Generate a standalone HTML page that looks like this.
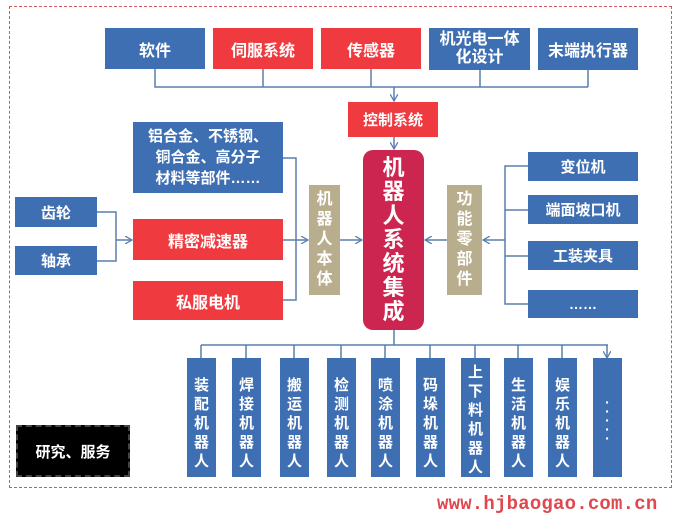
<!DOCTYPE html>
<html><head><meta charset="utf-8"><style>
body{margin:0;width:686px;height:530px;background:#fff;position:relative;overflow:hidden;font-family:"Liberation Sans","Noto Sans CJK SC",sans-serif;}
.b{position:absolute;display:flex;align-items:center;justify-content:center;color:#fff;font-weight:bold;text-align:center;box-sizing:border-box;}
.bl{background:#3f6fb3;}
.rd{background:#ef3b3f;}
.tn{background:#b8ad8c;}
</style></head><body>
<div style="position:absolute;left:9px;top:6px;width:663px;height:482px;border:1.5px dashed #d05a5a;box-sizing:border-box"></div>
<svg width="686" height="530" style="position:absolute;left:0;top:0">
<defs><marker id="a" markerWidth="8" markerHeight="8" refX="7" refY="4" orient="auto" markerUnits="userSpaceOnUse"><path d="M0,0 L7,4 L0,8" fill="none" stroke="#5b7fae" stroke-width="1.3"/></marker></defs>
<g stroke="#5b7fae" stroke-width="1.5" fill="none">
<path d="M155,69V87H588M263,69V87M371,69V87M480,69V87M588,69V87"/>
<path d="M394,87V101" marker-end="url(#a)"/>
<path d="M394,137V149" marker-end="url(#a)"/>
<path d="M97,212H116V261H97M116,240H132" marker-end="url(#a)"/>
<path d="M283,158H296V300H283M283,240H308" marker-end="url(#a)"/>
<path d="M340,240H362" marker-end="url(#a)"/>
<path d="M447,240H425" marker-end="url(#a)"/>
<path d="M528,166H505V304H528M528,210H505M528,256H505M505,240H483" marker-end="url(#a)"/>
<path d="M394,330V345M201,345H608"/>
<path d="M201,345V358M246,345V358M294,345V358M341,345V358M385,345V358M430,345V358M475,345V358M518,345V358M562,345V358M607,345V358" marker-end="url(#a)"/>
</g></svg>
<div class="b bl" style="left:105px;top:28px;width:100px;height:41px;font-size:16px">软件</div>
<div class="b rd" style="left:213px;top:28px;width:100px;height:41px;font-size:16px">伺服系统</div>
<div class="b rd" style="left:321px;top:28px;width:100px;height:41px;font-size:16px">传感器</div>
<div class="b bl" style="left:429px;top:28px;width:101px;height:42px;font-size:16px;line-height:18px">机光电一体<br>化设计</div>
<div class="b bl" style="left:538px;top:28px;width:100px;height:42px;font-size:16px">末端执行器</div>
<div class="b rd" style="left:348px;top:102px;width:90px;height:35px;font-size:15px">控制系统</div>
<div class="b" style="left:363px;top:150px;width:61px;height:180px;background:#cc2650;border-radius:10px;font-size:22px;line-height:24px;">机<br>器<br>人<br>系<br>统<br>集<br>成</div>
<div class="b bl" style="left:133px;top:122px;width:150px;height:71px;font-size:15px;line-height:21px">铝合金、不锈钢、<br>铜合金、高分子<br>材料等部件……</div>
<div class="b bl" style="left:15px;top:197px;width:82px;height:30px;font-size:15px">齿轮</div>
<div class="b bl" style="left:15px;top:246px;width:82px;height:29px;font-size:15px">轴承</div>
<div class="b rd" style="left:133px;top:219px;width:150px;height:41px;font-size:16px">精密减速器</div>
<div class="b rd" style="left:133px;top:281px;width:150px;height:39px;font-size:16px">私服电机</div>
<div class="b tn" style="left:309px;top:185px;width:31px;height:110px;font-size:16px;line-height:20px">机<br>器<br>人<br>本<br>体</div>
<div class="b tn" style="left:447px;top:185px;width:35px;height:110px;font-size:16px;line-height:20px">功<br>能<br>零<br>部<br>件</div>
<div class="b bl" style="left:528px;top:152px;width:110px;height:29px;font-size:15px">变位机</div>
<div class="b bl" style="left:528px;top:195px;width:110px;height:29px;font-size:15px">端面坡口机</div>
<div class="b bl" style="left:528px;top:241px;width:110px;height:29px;font-size:15px">工装夹具</div>
<div class="b bl" style="left:528px;top:290px;width:110px;height:28px;font-size:14px">……</div>
<div class="b bl" style="left:187px;top:358px;width:29px;height:119px;font-size:15px;line-height:19px;align-items:flex-start;padding-top:18px">装<br>配<br>机<br>器<br>人</div>
<div class="b bl" style="left:232px;top:358px;width:29px;height:119px;font-size:15px;line-height:19px;align-items:flex-start;padding-top:18px">焊<br>接<br>机<br>器<br>人</div>
<div class="b bl" style="left:280px;top:358px;width:29px;height:119px;font-size:15px;line-height:19px;align-items:flex-start;padding-top:18px">搬<br>运<br>机<br>器<br>人</div>
<div class="b bl" style="left:327px;top:358px;width:29px;height:119px;font-size:15px;line-height:19px;align-items:flex-start;padding-top:18px">检<br>测<br>机<br>器<br>人</div>
<div class="b bl" style="left:371px;top:358px;width:29px;height:119px;font-size:15px;line-height:19px;align-items:flex-start;padding-top:18px">喷<br>涂<br>机<br>器<br>人</div>
<div class="b bl" style="left:416px;top:358px;width:29px;height:119px;font-size:15px;line-height:19px;align-items:flex-start;padding-top:18px">码<br>垛<br>机<br>器<br>人</div>
<div class="b bl" style="left:461px;top:358px;width:29px;height:119px;font-size:15px;line-height:19px;align-items:flex-start;padding-top:5px">上<br>下<br>料<br>机<br>器<br>人</div>
<div class="b bl" style="left:504px;top:358px;width:29px;height:119px;font-size:15px;line-height:19px;align-items:flex-start;padding-top:18px">生<br>活<br>机<br>器<br>人</div>
<div class="b bl" style="left:548px;top:358px;width:29px;height:119px;font-size:15px;line-height:19px;align-items:flex-start;padding-top:18px">娱<br>乐<br>机<br>器<br>人</div>
<div class="b bl" style="left:593px;top:358px;width:29px;height:119px;font-size:14px;line-height:9px;align-items:flex-start;padding-top:40px">·<br>·<br>·<br>·<br>·</div>
<div class="b" style="left:16px;top:425px;width:114px;height:52px;background:#000;border:2px dashed #444;font-size:15px">研究、服务</div>
<div style="position:absolute;left:437px;top:493px;font-family:'Liberation Mono',monospace;font-weight:bold;font-size:19px;color:#e0474f;letter-spacing:0.2px">www.hjbaogao.com.cn</div>
</body></html>
